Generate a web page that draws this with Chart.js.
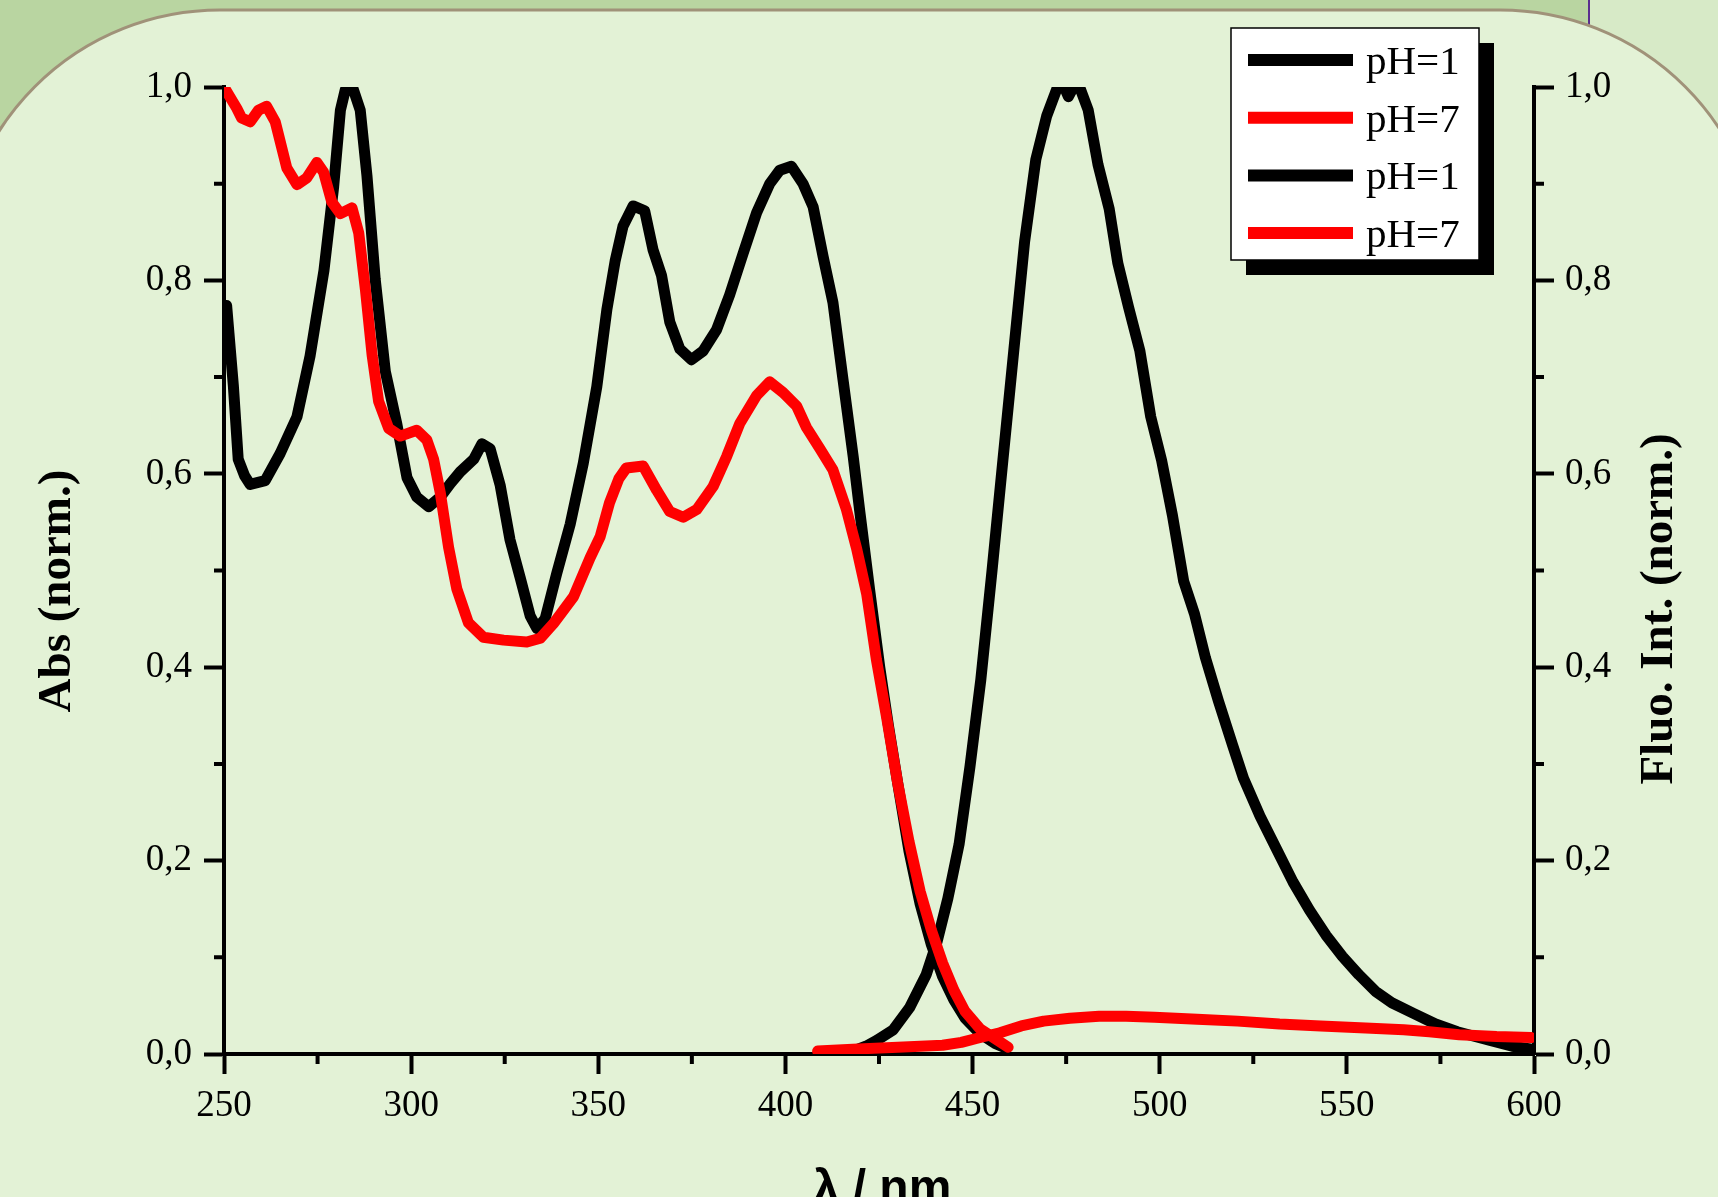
<!DOCTYPE html>
<html>
<head>
<meta charset="utf-8">
<script src="https://cdn.jsdelivr.net/npm/chart.js@4.4.1/dist/chart.umd.min.js"></script>
<style>
  html, body { margin: 0; padding: 0; background: #e3f2d6; overflow: hidden; }
  canvas { display: block; }
</style>
</head>
<body>
<canvas id="spectra" width="1718" height="1197"></canvas>
<script>
// wavelengths (nm) and normalised values
const absWlPH1 = [250.7, 252.5, 253.8, 255.5, 257, 261, 265, 269.5, 273, 276.7, 279.3, 281.1, 282.4, 284.6, 286.4, 288.2, 290.4, 293.1, 296.2, 298.9, 301.5, 304.7, 307.8, 310.5, 313.1, 316.7, 318.9, 321.1, 323.8, 326.4, 329.1, 331.8, 333.6, 335.8, 338.9, 342.5, 346, 349.6, 352.3, 354.5, 356.6, 359.3, 362.4, 364.6, 366.9, 369.1, 371.8, 374.9, 378, 381.6, 385.1, 388.7, 392.3, 395.8, 398.5, 401.6, 404.7, 407.4, 410.1, 412.7, 415.4, 418.1, 419.9, 422.5, 425.2, 427.5, 430, 433, 436, 439, 442, 445, 448, 452, 456, 459];
const absPH1 = [0.774, 0.691, 0.615, 0.598, 0.589, 0.593, 0.621, 0.659, 0.722, 0.81, 0.897, 0.976, 0.997, 0.997, 0.976, 0.908, 0.801, 0.706, 0.651, 0.596, 0.576, 0.566, 0.576, 0.59, 0.602, 0.615, 0.631, 0.626, 0.588, 0.532, 0.493, 0.453, 0.44, 0.45, 0.497, 0.548, 0.611, 0.69, 0.77, 0.82, 0.856, 0.877, 0.872, 0.832, 0.805, 0.757, 0.729, 0.718, 0.727, 0.749, 0.785, 0.828, 0.87, 0.9, 0.914, 0.918, 0.9, 0.876, 0.824, 0.777, 0.697, 0.618, 0.56, 0.48, 0.4, 0.34, 0.28, 0.21, 0.155, 0.113, 0.08, 0.056, 0.037, 0.021, 0.011, 0.006];

const absWlPH7 = [250, 253.4, 254.7, 257, 259.2, 261.4, 263.7, 266.8, 269.5, 272.1, 274.8, 276.6, 278.8, 281.1, 284.2, 286, 287.8, 289.6, 291.3, 294, 297.1, 301.5, 304.2, 306, 307.8, 310, 312.2, 315.3, 319.3, 324.7, 330.9, 334.5, 338, 343.4, 347.8, 350.5, 353, 355.5, 357.5, 362, 365.6, 369.1, 372.7, 376.3, 380.7, 384.3, 387.8, 392.3, 395.8, 399.4, 403, 405.6, 409.2, 412.7, 416.3, 419, 421.7, 424.3, 427, 430, 433, 436, 439, 442, 445, 448, 452, 456, 459.5];
const absPH7 = [1.0, 0.978, 0.968, 0.964, 0.976, 0.98, 0.964, 0.916, 0.899, 0.906, 0.922, 0.912, 0.881, 0.869, 0.875, 0.849, 0.79, 0.722, 0.675, 0.647, 0.639, 0.645, 0.635, 0.615, 0.58, 0.524, 0.481, 0.446, 0.431, 0.428, 0.426, 0.43, 0.445, 0.473, 0.513, 0.535, 0.57, 0.595, 0.606, 0.608, 0.583, 0.561, 0.555, 0.563, 0.587, 0.618, 0.652, 0.681, 0.695, 0.684, 0.67, 0.648, 0.626, 0.604, 0.563, 0.523, 0.476, 0.408, 0.349, 0.28, 0.22, 0.168, 0.128, 0.094, 0.066, 0.044, 0.026, 0.016, 0.007];

const fluoWlPH1 = [418, 421.5, 424.4, 428.8, 433.2, 437.6, 440.5, 443.4, 446.4, 449.3, 452.2, 455.2, 458.1, 461, 463.9, 466.9, 469.8, 472.7, 474.5, 475.6, 477, 478.6, 480.9, 483.5, 486.5, 488.8, 491.7, 494.7, 497.6, 500.5, 503.4, 506.4, 509.3, 512.2, 515.7, 519.5, 522.4, 526.8, 531.2, 535.6, 540, 544.4, 548.8, 553.2, 557.6, 562, 567.8, 573.7, 579.5, 588.3, 594.2, 599.4];
const fluoPH1 = [0.003, 0.008, 0.014, 0.025, 0.048, 0.082, 0.116, 0.161, 0.217, 0.297, 0.387, 0.5, 0.614, 0.727, 0.84, 0.925, 0.97, 1.0, 1.0, 0.99, 1.0, 1.0, 0.976, 0.92, 0.874, 0.818, 0.772, 0.727, 0.659, 0.614, 0.557, 0.489, 0.455, 0.41, 0.365, 0.319, 0.285, 0.246, 0.212, 0.178, 0.149, 0.123, 0.101, 0.082, 0.065, 0.053, 0.042, 0.031, 0.023, 0.014, 0.008, 0.005];

const fluoWlPH7 = [408.6, 418, 430, 442, 447, 451, 457.3, 463, 469, 476, 483.8, 491, 498.6, 510, 520.8, 532, 543, 555, 565.2, 572, 580, 590, 599.2];
const fluoPH7 = [0.003, 0.005, 0.007, 0.009, 0.012, 0.016, 0.022, 0.029, 0.034, 0.037, 0.039, 0.039, 0.038, 0.036, 0.034, 0.031, 0.029, 0.027, 0.025, 0.023, 0.02, 0.018, 0.017];

const seriesLabels = ['pH=1', 'pH=7', 'pH=1', 'pH=7'];
const xTitle = 'λ / nm';
const yTitle = 'Abs (norm.)';
const y2Title = 'Fluo. Int. (norm.)';

const toPoints = (xs, ys) => xs.map((x, i) => ({ x: x, y: ys[i] }));

const serif = 'Liberation Serif';
const tickFont = { family: serif, size: 37 };

const isMajor = (v, step) => Math.abs(Math.round(v / step) * step - v) < 1e-6;
const majorColor = (step) => (c) => (c.tick && isMajor(c.tick.value, step) ? '#000' : 'rgba(0,0,0,0)');
const fmt = (v) => v.toFixed(1).replace('.', ',');

// slide-like backdrop behind the plot
const backdrop = {
  id: 'backdrop',
  beforeDraw(chart) {
    const c = chart.ctx;
    const W = chart.width, H = chart.height;
    c.save();
    c.fillStyle = '#b9d5a1';
    c.fillRect(0, 0, W, H);
    c.fillStyle = '#d7eac7';
    c.fillRect(1589, 0, W - 1589, 160);
    c.strokeStyle = '#5a2f8f';
    c.lineWidth = 2;
    c.beginPath(); c.moveTo(1589, 0); c.lineTo(1589, 30); c.stroke();

    const L = -42, T = 10, R = 1762, B = H + 400, r = 262;
    c.beginPath();
    c.moveTo(L + r, T);
    c.lineTo(R - r, T);
    c.arcTo(R, T, R, T + r, r);
    c.lineTo(R, B);
    c.lineTo(L, B);
    c.lineTo(L, T + r);
    c.arcTo(L, T, L + r, T, r);
    c.closePath();
    c.fillStyle = '#e3f2d6';
    c.fill();
    c.strokeStyle = '#a09279';
    c.lineWidth = 3;
    c.stroke();
    c.restore();
  }
};

// short minor ticks and axis titles
const axisDecor = {
  id: 'axisDecor',
  afterDraw(chart) {
    const c = chart.ctx;
    const { x, y, y2 } = chart.scales;
    const a = chart.chartArea;
    c.save();
    c.strokeStyle = '#000';
    c.lineWidth = 4;
    c.beginPath();
    x.ticks.forEach(t => {
      if (isMajor(t.value, 50)) return;
      const px = x.getPixelForValue(t.value);
      c.moveTo(px, a.bottom); c.lineTo(px, a.bottom + 10);
    });
    y.ticks.forEach(t => {
      if (isMajor(t.value, 0.2)) return;
      const py = y.getPixelForValue(t.value);
      c.moveTo(a.left, py); c.lineTo(a.left - 10, py);
    });
    y2.ticks.forEach(t => {
      if (isMajor(t.value, 0.2)) return;
      const py = y2.getPixelForValue(t.value);
      c.moveTo(a.right, py); c.lineTo(a.right + 10, py);
    });
    c.stroke();

    c.fillStyle = '#000';
    c.textAlign = 'center';
    c.textBaseline = 'alphabetic';
    c.font = 'bold 48px "Liberation Sans"';
    c.fillText(xTitle, (a.left + a.right) / 2 + 3, 1203);

    c.font = 'bold 47px "Liberation Serif"';
    c.save();
    c.translate(70, 591);
    c.rotate(-Math.PI / 2);
    c.fillText(yTitle, 0, 0);
    c.restore();
    c.save();
    c.translate(1672, 609);
    c.rotate(-Math.PI / 2);
    c.fillText(y2Title, 0, 0);
    c.restore();
    c.restore();
  }
};

// boxed legend with drop shadow, top right
const boxLegend = {
  id: 'boxLegend',
  afterDraw(chart) {
    const c = chart.ctx;
    const bx = 1231, by = 28, bw = 248, bh = 232;
    c.save();
    c.fillStyle = '#000';
    c.fillRect(bx + 15, by + 15, bw, bh);
    c.fillStyle = '#fff';
    c.fillRect(bx, by, bw, bh);
    c.strokeStyle = '#000';
    c.lineWidth = 1.5;
    c.strokeRect(bx, by, bw, bh);
    c.font = '41px "Liberation Serif"';
    c.textAlign = 'left';
    c.textBaseline = 'alphabetic';
    chart.data.datasets.forEach((ds, i) => {
      const ry = 60 + i * 57.7;
      c.strokeStyle = ds.borderColor;
      c.lineWidth = 12;
      c.lineCap = 'butt';
      c.beginPath(); c.moveTo(1248, ry); c.lineTo(1353, ry); c.stroke();
      c.fillStyle = '#000';
      c.fillText(ds.label, 1366, ry + 14);
    });
    c.restore();
  }
};

const lineStyle = {
  borderWidth: 11,
  pointRadius: 0,
  tension: 0,
  borderJoinStyle: 'round',
  borderCapStyle: 'round'
};

new Chart(document.getElementById('spectra'), {
  type: 'line',
  data: {
    datasets: [
      { label: seriesLabels[0], data: toPoints(absWlPH1, absPH1), borderColor: '#000000', yAxisID: 'y', order: 4, ...lineStyle },
      { label: seriesLabels[1], data: toPoints(absWlPH7, absPH7), borderColor: '#ff0000', yAxisID: 'y', order: 2, ...lineStyle },
      { label: seriesLabels[2], data: toPoints(fluoWlPH1, fluoPH1), borderColor: '#000000', yAxisID: 'y2', order: 3, ...lineStyle },
      { label: seriesLabels[3], data: toPoints(fluoWlPH7, fluoPH7), borderColor: '#ff0000', yAxisID: 'y2', order: 1, ...lineStyle }
    ]
  },
  options: {
    responsive: false,
    animation: false,
    events: [],
    layout: { padding: { top: 87, left: 0, right: 0, bottom: 0 } },
    plugins: { legend: { display: false }, tooltip: { enabled: false } },
    scales: {
      x: {
        type: 'linear',
        position: 'bottom',
        min: 250,
        max: 600,
        afterFit: (s) => { s.height = 143; },
        border: { display: true, color: '#000', width: 4 },
        grid: { drawOnChartArea: false, drawTicks: true, tickLength: 20, tickWidth: 4, tickColor: majorColor(50) },
        ticks: {
          stepSize: 25,
          autoSkip: false,
          maxRotation: 0,
          padding: 10,
          color: '#000',
          font: tickFont,
          callback: (v) => (isMajor(v, 50) ? String(v) : '')
        }
      },
      y: {
        position: 'left',
        min: 0,
        max: 1,
        afterFit: (s) => { s.width = 224; },
        border: { display: true, color: '#000', width: 4 },
        grid: { drawOnChartArea: false, drawTicks: true, tickLength: 20, tickWidth: 4, tickColor: majorColor(0.2) },
        ticks: {
          stepSize: 0.1,
          autoSkip: false,
          padding: 12,
          color: '#000',
          font: tickFont,
          callback: (v) => (isMajor(v, 0.2) ? fmt(v) : '')
        }
      },
      y2: {
        position: 'right',
        min: 0,
        max: 1,
        afterFit: (s) => { s.width = 184; },
        border: { display: true, color: '#000', width: 4 },
        grid: { drawOnChartArea: false, drawTicks: true, tickLength: 20, tickWidth: 4, tickColor: majorColor(0.2) },
        ticks: {
          stepSize: 0.1,
          autoSkip: false,
          padding: 11,
          color: '#000',
          font: tickFont,
          callback: (v) => (isMajor(v, 0.2) ? fmt(v) : '')
        }
      }
    }
  },
  plugins: [backdrop, axisDecor, boxLegend]
});
</script>
</body>
</html>
